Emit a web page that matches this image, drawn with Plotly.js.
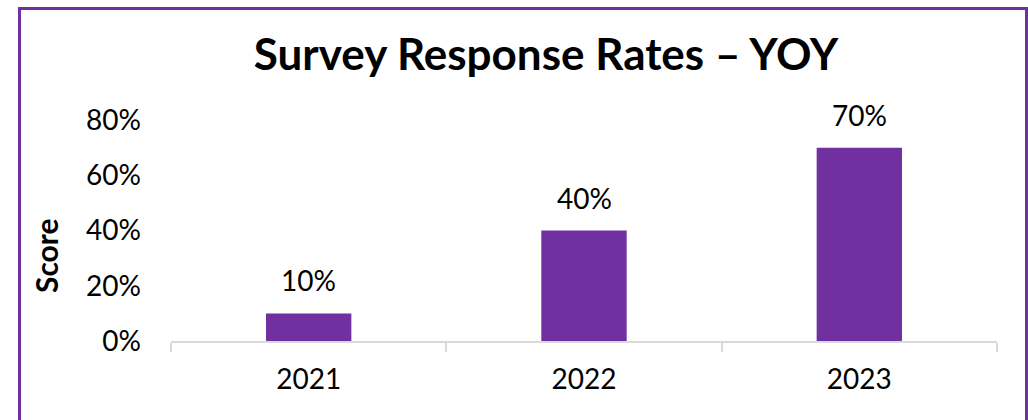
<!DOCTYPE html>
<html><head><meta charset="utf-8">
<script src="https://cdn.plot.ly/plotly-3.0.1.min.js"></script>
<style>
html,body{margin:0;padding:0;background:#fff;overflow:hidden;}
#wrap{position:relative;width:1028px;height:420px;}
#chart{position:absolute;left:0;top:0;width:1028px;height:420px;}
#frame{position:absolute;left:18px;top:7px;width:1004px;height:430px;border:3px solid #7030A0;pointer-events:none;}
</style></head>
<body><div id="wrap"><div id="chart"></div><div id="frame"></div></div>
<script>
const years = ['2021', '2022', '2023'];
const rates = [0.10, 0.40, 0.70];
const yTicks = [0, 0.2, 0.4, 0.6, 0.8];
const yTickText = ['0%', '20%', '40%', '60%', '80%'];
const FONT = 'Lato, "Open Sans", sans-serif';

const annotations = years.map((y, i) => ({
  x: i, y: rates[i], xref: 'x', yref: 'y',
  text: Math.round(rates[i] * 100) + '%',
  showarrow: false, yanchor: 'bottom', yshift: 14,
  font: {family: FONT, size: 28, color: '#000'}
}));
annotations.push({
  text: '<b>Score</b>', xref: 'paper', yref: 'paper',
  x: (46 - 171) / 826, y: (341 - 256) / 221,
  xanchor: 'center', yanchor: 'middle', textangle: -90, showarrow: false,
  font: {family: FONT, size: 30, color: '#000'}
});

Plotly.newPlot('chart', [{
  type: 'bar', x: years, y: rates,
  marker: {color: '#7030A0'}, width: 0.31, hoverinfo: 'none'
}], {
  width: 1028, height: 420,
  margin: {l: 171, r: 31, t: 120, b: 79},
  paper_bgcolor: '#fff', plot_bgcolor: '#fff',
  showlegend: false,
  title: {text: '<b>Survey Response Rates – YOY</b>', xref: 'container', yref: 'container',
    x: 546 / 1028, y: 1 - 55 / 420, xanchor: 'center', yanchor: 'middle',
    font: {family: FONT, size: 44, color: '#000'}},
  xaxis: {
    type: 'category', range: [-0.5, 2.5], autorange: false,
    showline: true, linecolor: '#d9d9d9', linewidth: 2,
    ticks: 'outside', tickson: 'boundaries', ticklen: 9, tickcolor: '#d9d9d9', tickwidth: 2,
    tickfont: {family: FONT, size: 28, color: '#000'}, ticklabelstandoff: 12,
    showgrid: false, zeroline: false, fixedrange: true
  },
  yaxis: {
    range: [0, 0.8], autorange: false, tickvals: yTicks, ticktext: yTickText,
    showline: false, showgrid: false, zeroline: false, ticks: '',
    tickfont: {family: FONT, size: 28, color: '#000'}, ticklabelstandoff: 29,
    fixedrange: true
  },
  annotations: annotations
}, {displayModeBar: false, staticPlot: true});
</script></body></html>
